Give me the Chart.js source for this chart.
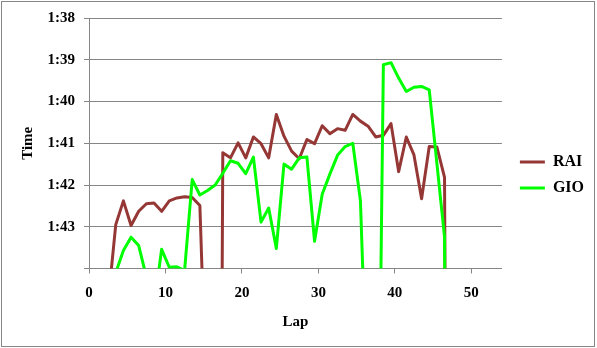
<!DOCTYPE html>
<html>
<head>
<meta charset="utf-8">
<script src="https://cdn.jsdelivr.net/npm/chart.js@4/dist/chart.umd.min.js"></script>
<style>
    html, body { margin: 0; padding: 0; background: #fff; }
</style>
</head>
<body>
<canvas id="lapChart" width="597" height="348"></canvas>
<script>
// lap positions as plotted (points sit half a lap after the integer tick)
const laps = [2.5, 3.5, 4.5, 5.5, 6.5, 7.5, 8.5, 9.5, 10.5, 11.5, 12.5, 13.5, 14.5, 15.5, 16.5,
    17.5, 18.5, 19.5, 20.5, 21.5, 22.5, 23.5, 24.5, 25.5, 26.5, 27.5, 28.5, 29.5, 30.5, 31.5,
    32.5, 33.5, 34.5, 35.5, 36.5, 37.5, 38.5, 39.5, 40.5, 41.5, 42.5, 43.5, 44.5, 45.5, 46.5, 47.5];

// lap times in seconds
const raiTimes = [104.8, 102.95, 102.38, 102.97, 102.63, 102.45, 102.43, 102.63, 102.38, 102.31,
    102.28, 102.30, 102.49, 108, 136, 101.23, 101.35, 100.99, 101.35, 100.85,
    101.01, 101.35, 100.31, 100.83, 101.19, 101.37, 100.91, 101.01, 100.58, 100.77,
    100.65, 100.69, 100.31, 100.47, 100.59, 100.85, 100.81, 100.53, 101.68, 100.85,
    101.28, 102.33, 101.08, 101.09, 101.82, 140];

const gioTimes = [105, 104.1, 103.57, 103.25, 103.45, 104.2, 104.9, 103.54, 103.97, 103.96,
    104.05, 101.87, 102.24, 102.13, 102.0, 101.72, 101.42, 101.48, 101.73, 101.33,
    102.89, 102.55, 103.52, 101.5, 101.62, 101.35, 101.33, 103.35, 102.22, 101.74,
    101.29, 101.08, 101.0, 102.38, 107.75, 114.6, 99.12, 99.07, 99.44, 99.76,
    99.66, 99.64, 99.72, 101.48, 103.25, 140];

const xTickValues = [0, 10, 20, 30, 40, 50];
const xMin = 0, xMax = 54;
const yMin = 98, yMax = 104;   // 1:38 .. 1:44, reversed

const GRID = "#868686";
const serif = "'Liberation Serif', 'Times New Roman', serif";

function fmtTime(v) {
    const m = Math.floor(v / 60);
    const s = Math.round(v - m * 60);
    return m + ":" + String(s).padStart(2, "0");
}

function toPoints(times) {
    return laps.map((x, i) => ({ x: x, y: times[i] }));
}

// white background + thin frame round the whole chart
const framePlugin = {
    id: "frame",
    beforeDraw(chart) {
        const ctx = chart.ctx;
        ctx.save();
        ctx.fillStyle = "#fff";
        ctx.fillRect(0, 0, chart.width, chart.height);
        ctx.strokeStyle = GRID;
        ctx.lineWidth = 1;
        ctx.strokeRect(1.5, 1.5, chart.width - 4, chart.height - 3);
        ctx.restore();
    },
};

const ctx = document.getElementById("lapChart").getContext("2d");
new Chart(ctx, {
    type: "line",
    data: {
        datasets: [
            {
                label: "RAI",
                data: toPoints(raiTimes),
                borderColor: "#953735",
                backgroundColor: "#953735",
                borderWidth: 3,
                pointRadius: 0,
                tension: 0,
                borderJoinStyle: "round",
                clip: 0,
                order: 1,
            },
            {
                label: "GIO",
                data: toPoints(gioTimes),
                borderColor: "#00ff00",
                backgroundColor: "#00ff00",
                borderWidth: 3,
                pointRadius: 0,
                tension: 0,
                borderJoinStyle: "round",
                clip: 0,
                order: 0,
            },
        ],
    },
    options: {
        responsive: false,
        animation: false,
        layout: { padding: { left: 0, top: 16, right: 3, bottom: 14 } },
        plugins: {
            tooltip: { enabled: false },
            legend: {
                position: "right",
                align: "center",
                labels: {
                    usePointStyle: true,
                    pointStyle: "line",
                    pointStyleWidth: 25,
                    padding: 10,
                    color: "#000",
                    font: { family: serif, weight: "bold", size: 16 },
                    sort: (a, b) => a.datasetIndex - b.datasetIndex,
                },
            },
        },
        scales: {
            x: {
                type: "linear",
                min: xMin,
                max: xMax,
                afterBuildTicks: (s) => {
                    s.ticks = xTickValues.map((v) => ({ value: v }));
                },
                afterFit: (s) => { s.height = 65.5; },
                grid: { display: true, drawOnChartArea: false, tickLength: 5, color: GRID },
                border: { color: GRID },
                ticks: {
                    padding: 11,
                    color: "#000",
                    font: { family: serif, weight: "bold", size: 15 },
                },
                title: {
                    display: true,
                    text: "Lap",
                    color: "#000",
                    padding: { top: 0, bottom: 3 },
                    font: { family: serif, weight: "bold", size: 15 },
                },
            },
            y: {
                type: "linear",
                reverse: true,
                min: yMin,
                max: yMax,
                afterFit: (s) => { s.width = 89; },
                grid: { color: GRID, tickLength: 5 },
                border: { color: GRID },
                ticks: {
                    stepSize: 1,
                    padding: 9,
                    color: "#000",
                    font: { family: serif, weight: "bold", size: 15 },
                    callback: (v) => (v === yMax ? "" : fmtTime(v)),
                },
                title: {
                    display: true,
                    text: "Time",
                    color: "#000",
                    padding: { top: 19, bottom: 0 },
                    font: { family: serif, weight: "bold", size: 15 },
                },
            },
            // empty strip between plot and legend
            gap: {
                type: "linear",
                position: "right",
                display: true,
                grid: { display: false },
                border: { display: false },
                ticks: { display: false },
                afterFit: (s) => { s.width = 8; },
            },
        },
    },
    plugins: [framePlugin],
});
</script>
</body>
</html>
